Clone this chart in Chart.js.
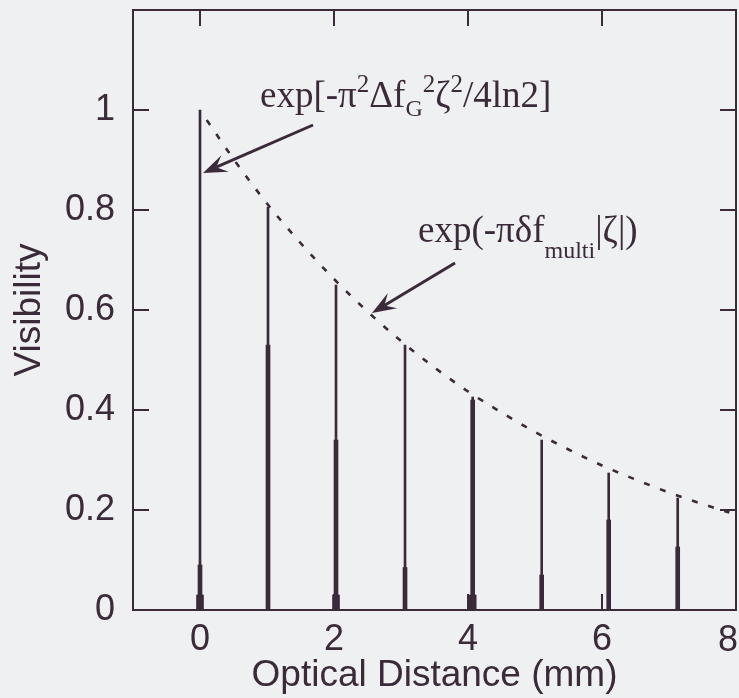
<!DOCTYPE html>
<html>
<head>
<meta charset="utf-8">
<script src="https://cdn.jsdelivr.net/npm/chart.js@4.4.1/dist/chart.umd.min.js"></script>
<style>
  html, body { margin: 0; padding: 0; background: #eff0f2; }
  #wrap { width: 739px; height: 698px; }
</style>
</head>
<body>
<div id="wrap"><canvas id="visChart"></canvas></div>
<script>
// fringe packet positions (mm) and peak visibility
const peakPos    = [0.0, 1.015, 2.03, 3.06, 4.07, 5.1, 6.1, 7.13];
const peakHeight = [1.0, 0.806, 0.65, 0.53, 0.426, 0.34, 0.274, 0.224];
// thicker lower part of each packet, and the dark blob at its foot
const packetHeight = [0.09, 0.53, 0.34, 0.085, 0.42, 0.07, 0.18, 0.126];
const baseHeight   = [0.03, 0.0, 0.03, 0.0, 0.03, 0.0, 0.0, 0.0];

// dashed envelope exp(-pi df_multi |z|)
const envX = [0.1, 0.5, 1.0, 1.5, 2.0, 2.5, 3.0, 3.5, 4.0, 4.5, 5.0, 5.5, 6.0, 6.5, 7.0, 7.5, 7.9];
const envY = [0.98, 0.902, 0.813, 0.734, 0.662, 0.597, 0.538, 0.485, 0.437, 0.395, 0.356, 0.321, 0.289, 0.261, 0.235, 0.212, 0.195];

const xTicks = [0, 2, 4, 6, 8];
const yTicks = [0, 0.2, 0.4, 0.6, 0.8, 1.0, 1.2];

const ink = '#3b2a3a';
const bg = '#eff0f2';
const sans = '"Liberation Sans", Arial, sans-serif';
const serif = '"Liberation Serif", "Times New Roman", serif';

const pairs = (xs, ys) => xs.map((x, i) => ({ x: x, y: ys[i] }));

// formula labels + arrows (data coordinates)
const notes = [
  {
    at: [0.896, 1.006],
    runs: [['exp[-\u03c0', 37, 0], ['2', 25, -15], ['\u0394f', 37, 0], ['G', 24, 9], ['2', 25, -15],
           ['\u03b6', 37, 0], ['2', 25, -15], ['/4ln2]', 37, 0]],
    arrow: [[1.687, 0.97], [0.045, 0.874]]
  },
  {
    at: [3.254, 0.736],
    runs: [['exp(-\u03c0\u03b4f', 37, 0], ['multi', 24, 16], ['|\u03b6|)', 37, 0]],
    arrow: [[3.806, 0.694], [2.567, 0.594]]
  }
];

const frame = {
  id: 'frame',
  beforeDraw(chart) {
    const ctx = chart.ctx;
    ctx.save();
    ctx.fillStyle = bg;
    ctx.fillRect(0, 0, chart.width, chart.height);
    ctx.restore();
  },
  afterDatasetsDraw(chart) {
    const ctx = chart.ctx;
    const a = chart.chartArea;
    const xs = chart.scales.x, ys = chart.scales.y;
    const tl = 16;
    ctx.save();
    ctx.strokeStyle = ink;
    ctx.lineWidth = 2;
    ctx.strokeRect(a.left, a.top, a.right - a.left, a.bottom - a.top);
    ctx.beginPath();
    xTicks.forEach(v => {
      const px = xs.getPixelForValue(v);
      ctx.moveTo(px, a.bottom); ctx.lineTo(px, a.bottom - tl);
      ctx.moveTo(px, a.top); ctx.lineTo(px, a.top + tl);
    });
    yTicks.forEach(v => {
      const py = ys.getPixelForValue(v);
      ctx.moveTo(a.left, py); ctx.lineTo(a.left + tl, py);
      ctx.moveTo(a.right, py); ctx.lineTo(a.right - tl, py);
    });
    ctx.stroke();

    // last x label sits just inside the right edge
    ctx.fillStyle = ink;
    ctx.font = '36px ' + sans;
    ctx.textAlign = 'right';
    ctx.textBaseline = 'top';
    const last = xTicks[xTicks.length - 1];
    ctx.fillText(String(last), xs.getPixelForValue(last) + 2, a.bottom + 13);

    // annotations
    ctx.textBaseline = 'alphabetic';
    ctx.textAlign = 'left';
    notes.forEach(n => {
      let x = xs.getPixelForValue(n.at[0]);
      const y = ys.getPixelForValue(n.at[1]);
      n.runs.forEach(r => {
        ctx.font = r[1] + 'px ' + serif;
        ctx.fillText(r[0], x, y + r[2]);
        x += ctx.measureText(r[0]).width;
      });
      const x0 = xs.getPixelForValue(n.arrow[0][0]), y0 = ys.getPixelForValue(n.arrow[0][1]);
      const x1 = xs.getPixelForValue(n.arrow[1][0]), y1 = ys.getPixelForValue(n.arrow[1][1]);
      const ang = Math.atan2(y1 - y0, x1 - x0);
      const hl = 24, hw = 9;
      ctx.lineWidth = 3;
      ctx.beginPath();
      ctx.moveTo(x0, y0);
      ctx.lineTo(x1 - Math.cos(ang) * hl * 0.6, y1 - Math.sin(ang) * hl * 0.6);
      ctx.stroke();
      ctx.beginPath();
      ctx.moveTo(x1, y1);
      ctx.lineTo(x1 - Math.cos(ang) * hl - Math.sin(ang) * hw, y1 - Math.sin(ang) * hl + Math.cos(ang) * hw);
      ctx.lineTo(x1 - Math.cos(ang) * hl * 0.6, y1 - Math.sin(ang) * hl * 0.6);
      ctx.lineTo(x1 - Math.cos(ang) * hl + Math.sin(ang) * hw, y1 - Math.sin(ang) * hl - Math.cos(ang) * hw);
      ctx.closePath();
      ctx.fill();
    });
    ctx.restore();
  }
};

const ctx = document.getElementById('visChart').getContext('2d');
new Chart(ctx, {
  type: 'bar',
  data: {
    datasets: [
      {
        type: 'line',
        label: 'envelope',
        data: pairs(envX, envY),
        borderColor: ink,
        borderWidth: 2.6,
        borderDash: [6, 11],
        pointRadius: 0,
        fill: false,
        cubicInterpolationMode: 'monotone'
      },
      {
        label: 'peak',
        data: pairs(peakPos, peakHeight),
        backgroundColor: ink,
        barThickness: 2,
        grouped: false
      },
      {
        label: 'packet',
        data: pairs(peakPos, packetHeight),
        backgroundColor: ink,
        barThickness: 4,
        grouped: false
      },
      {
        label: 'base',
        data: pairs(peakPos, baseHeight),
        backgroundColor: ink,
        barThickness: 7,
        grouped: false
      }
    ]
  },
  options: {
    responsive: true,
    maintainAspectRatio: false,
    animation: false,
    layout: { padding: { top: 10, right: 3, left: 0, bottom: 0 } },
    plugins: {
      legend: { display: false },
      tooltip: { enabled: false }
    },
    scales: {
      x: {
        type: 'linear',
        offset: false,
        min: -1,
        max: 8,
        grid: { display: false, drawTicks: false, offset: false },
        border: { display: false },
        afterBuildTicks: s => { s.ticks = xTicks.map(v => ({ value: v })); },
        afterFit: s => { s.height = 88; s.paddingLeft = 0; s.paddingRight = 0; },
        ticks: {
          color: ink,
          padding: 8,
          maxRotation: 0,
          font: { family: sans, size: 36 },
          // the last one is drawn by the frame plugin
          callback: v => (v === xTicks[xTicks.length - 1] ? '' : String(v))
        },
        title: {
          display: true,
          text: 'Optical Distance (mm)',
          color: ink,
          font: { family: sans, size: 37 },
          padding: { top: 0, bottom: 0 }
        }
      },
      y: {
        min: 0,
        max: 1.2,
        grid: { display: false, drawTicks: false },
        border: { display: false },
        afterBuildTicks: s => { s.ticks = yTicks.map(v => ({ value: v })); },
        afterFit: s => { s.width = 133; s.paddingTop = 0; s.paddingBottom = 0; },
        ticks: {
          color: ink,
          padding: 18,
          font: { family: sans, size: 36 },
          callback: v => (v > 1.1 ? '' : String(Math.round(v * 10) / 10))
        },
        title: {
          display: true,
          text: 'Visibility',
          color: ink,
          font: { family: sans, size: 37 },
          padding: { top: 8, bottom: 0 }
        }
      }
    }
  },
  plugins: [frame]
});
</script>
</body>
</html>
